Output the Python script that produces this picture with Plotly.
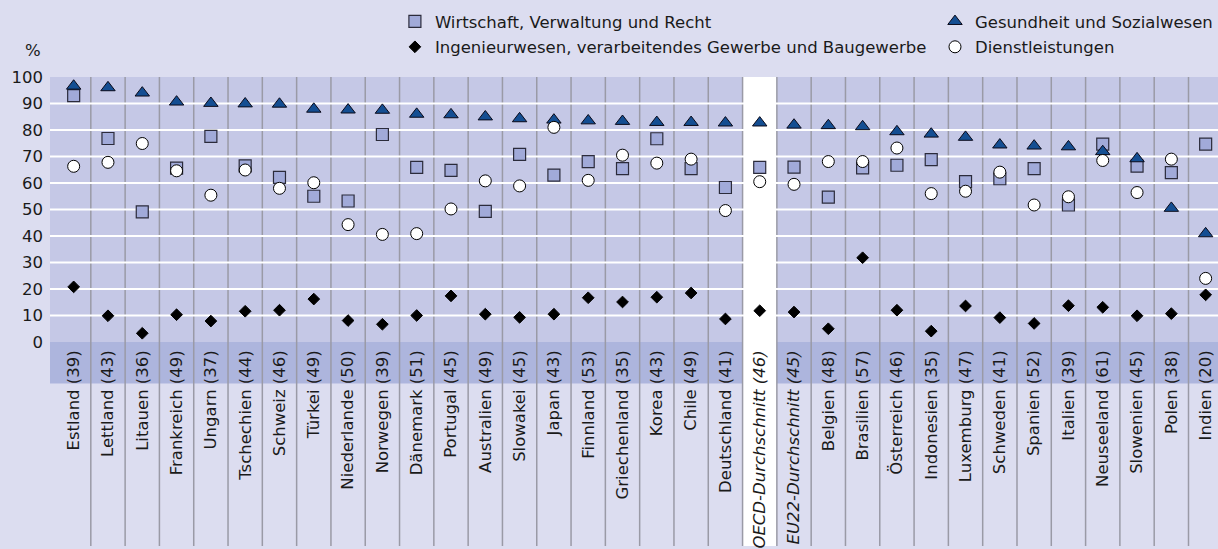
import plotly.graph_objects as go

countries = ["Estland", "Lettland", "Litauen", "Frankreich", "Ungarn", "Tschechien", "Schweiz",
             "Türkei", "Niederlande", "Norwegen", "Dänemark", "Portugal", "Australien", "Slowakei",
             "Japan", "Finnland", "Griechenland", "Korea", "Chile", "Deutschland",
             "OECD-Durchschnitt", "EU22-Durchschnitt", "Belgien", "Brasilien", "Österreich",
             "Indonesien", "Luxemburg", "Schweden", "Spanien", "Italien", "Neuseeland",
             "Slowenien", "Polen", "Indien"]
n_values = [39, 43, 36, 49, 37, 44, 46, 49, 50, 39, 51, 45, 49, 45, 43, 53, 35, 43, 49, 41,
            46, 45, 48, 57, 46, 35, 47, 41, 52, 39, 61, 45, 38, 20]

wirtschaft = [93, 76.8, 49.1, 65.6, 77.6, 66.5, 62.1, 55, 53.2, 78.3, 65.9, 64.8, 49.3, 70.8,
              63, 68.1, 65.4, 76.7, 65.4, 58.3, 65.9, 66, 54.7, 65.7, 66.7, 68.8, 60.5, 61.6,
              65.4, 51.7, 74.7, 66.4, 63.9, 74.7]
ingenieur = [20.8, 9.9, 3.3, 10.3, 7.9, 11.6, 12, 16.2, 8.1, 6.7, 10, 17.4, 10.5, 9.3, 10.5,
             16.7, 15.1, 16.9, 18.5, 8.7, 11.8, 11.3, 5, 31.8, 12, 4.1, 13.6, 9.2, 7, 13.7,
             13.1, 9.9, 10.7, 17.8]
gesundheit = [96.6, 96, 94, 90.6, 90.1, 89.9, 89.8, 87.9, 87.6, 87.5, 86, 85.8, 85, 84.3, 83.8,
              83.5, 83.3, 82.9, 82.9, 82.7, 82.7, 81.9, 81.7, 81.3, 79.4, 78.5, 77.3, 74.4, 74,
              73.7, 71.9, 69.2, 50.5, 40.9]
dienst = [66.3, 67.8, 74.9, 64.6, 55.4, 64.9, 58, 60.1, 44.3, 40.6, 40.9, 50.2, 60.8, 58.9, 81,
          61, 70.5, 67.5, 69, 49.6, 60.5, 59.5, 68.1, 68.1, 73.2, 56, 56.9, 64.1, 51.7, 54.8,
          68.5, 56.4, 69, 24]

series_names = ["Wirtschaft, Verwaltung und Recht",
                "Ingenieurwesen, verarbeitendes Gewerbe und Baugewerbe",
                "Gesundheit und Sozialwesen",
                "Dienstleistungen"]
y_ticks = [0, 10, 20, 30, 40, 50, 60, 70, 80, 90, 100]
averages = ["OECD-Durchschnitt", "EU22-Durchschnitt"]

FONT = "DejaVu Sans"
BG = "#dcddf0"
PLOT_BG = "#c5c8e6"
BAND = "#adb5dd"
FS = 16.5

labels = []
for c, n in zip(countries, n_values):
    t = f"{c} ({n})"
    labels.append(f"<i>{t}</i>" if c in averages else t)

fig = go.Figure()
fig.add_trace(go.Scatter(
    x=countries, y=wirtschaft, mode="markers", name=series_names[0],
    marker=dict(symbol="square", size=12, color="#a1aad9", line=dict(color="#2b2b3b", width=1.2)),
    legend="legend", legendgroup="a", cliponaxis=False))
fig.add_trace(go.Scatter(
    x=countries, y=ingenieur, mode="markers", name=series_names[1],
    marker=dict(symbol="diamond", size=9, color="#000000", line=dict(color="#000000", width=1)),
    legend="legend", legendgroup="b", cliponaxis=False))
fig.add_trace(go.Scatter(
    x=countries, y=gesundheit, mode="markers", name=series_names[2],
    marker=dict(symbol="triangle-up", size=12.5, color="#144e92", line=dict(color="#0a0a1a", width=1)),
    legend="legend2", legendgroup="c", cliponaxis=False))
fig.add_trace(go.Scatter(
    x=countries, y=dienst, mode="markers", name=series_names[3],
    marker=dict(symbol="circle", size=12, color="#ffffff", line=dict(color="#000000", width=1)),
    legend="legend2", legendgroup="d", cliponaxis=False))

BOTTOM = -0.77
shapes = []
# band for the counts
shapes.append(dict(type="rect", xref="paper", yref="paper", x0=0, x1=1, y0=-0.157, y1=0,
                   fillcolor=BAND, line=dict(width=0), layer="below"))
# white column for OECD average
oi = countries.index("OECD-Durchschnitt")
shapes.append(dict(type="rect", xref="x", yref="paper", x0=oi - 0.5, x1=oi + 0.5, y0=BOTTOM, y1=1,
                   fillcolor="#ffffff", line=dict(width=0), layer="below"))
# vertical separators
for i in range(len(countries) - 1):
    shapes.append(dict(type="line", xref="x", yref="paper", x0=i + 0.5, x1=i + 0.5, y0=BOTTOM, y1=1,
                       line=dict(color="#9a9aa6", width=1.5), layer="below"))
# horizontal white gridlines
for v in y_ticks[1:-1]:
    shapes.append(dict(type="line", xref="paper", yref="y", x0=0, x1=1, y0=v, y1=v,
                       line=dict(color="#ffffff", width=2), layer="below"))

fig.update_layout(
    width=1218, height=549,
    margin=dict(l=50, r=0, t=77, b=205),
    paper_bgcolor=BG, plot_bgcolor=PLOT_BG,
    font=dict(family=FONT, size=FS, color="#1a1a1a"),
    shapes=shapes,
    legend=dict(x=0.2953, y=1.275, xanchor="left", yanchor="top", bgcolor="rgba(0,0,0,0)",
                font=dict(size=FS), tracegroupgap=1, itemclick=False),
    legend2=dict(x=0.7577, y=1.275, xanchor="left", yanchor="top", bgcolor="rgba(0,0,0,0)",
                 font=dict(size=FS), tracegroupgap=1, itemclick=False),
    annotations=[dict(text="%", xref="paper", yref="paper", x=-0.006, y=1.101,
                      xanchor="right", yanchor="middle", showarrow=False,
                      font=dict(size=FS, color="#1a1a1a"))],
)
fig.update_xaxes(type="category", categoryorder="array", categoryarray=countries,
                 range=[-0.69, 33.36], tickvals=countries, ticktext=labels, tickangle=-90,
                 showgrid=False, zeroline=False, showline=False, ticks="",
                 ticklabelstandoff=4, tickfont=dict(size=FS, color="#1a1a1a"))
fig.update_yaxes(range=[0, 100], tickvals=y_ticks, showgrid=False, zeroline=False,
                 showline=False, ticks="", ticklabelstandoff=6,
                 tickfont=dict(size=FS, color="#1a1a1a"))

fig.write_html(
    "out.html",
    config={"displayModeBar": False},
    post_script=("document.body.style.margin='0';document.body.style.padding='0';"
                 "document.body.style.background='" + BG + "';"
                 "document.body.style.overflow='hidden';"),
)
